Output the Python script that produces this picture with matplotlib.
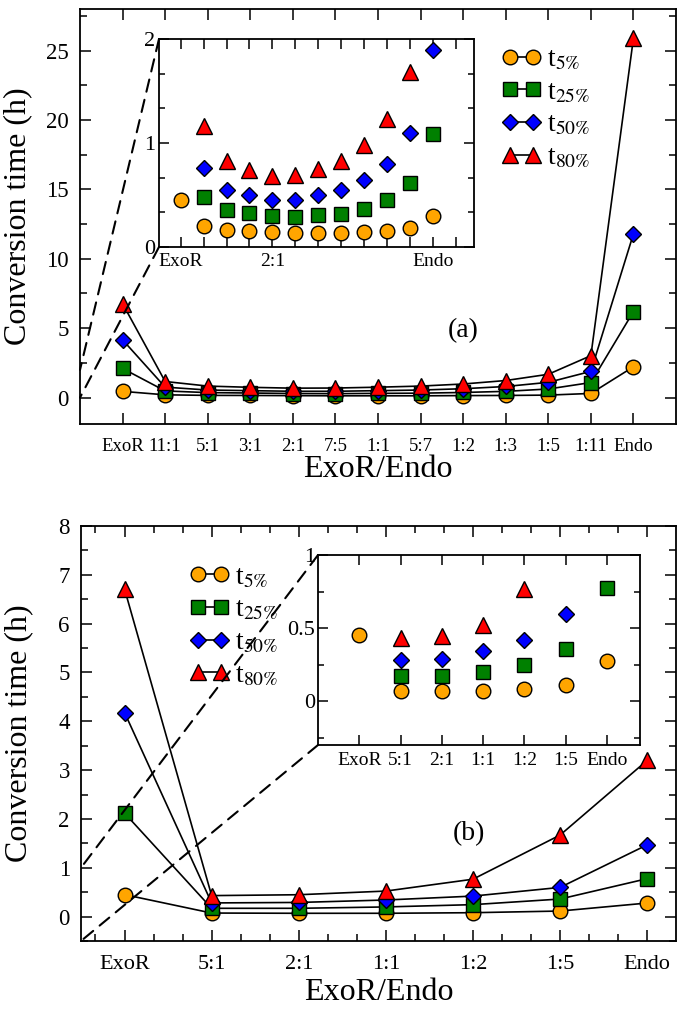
import numpy as np
import matplotlib
matplotlib.use('Agg')
import matplotlib.pyplot as plt
from matplotlib.ticker import MultipleLocator, FormatStrFormatter
from matplotlib.patches import ConnectionPatch

# panel (a) data
cats_a = ["ExoR", "11:1", "5:1", "3:1", "2:1", "7:5", "1:1", "5:7", "1:2", "1:3", "1:5", "1:11", "Endo"]
t5_a = [0.45, 0.20, 0.16, 0.155, 0.14, 0.13, 0.13, 0.13, 0.145, 0.155, 0.18, 0.30, 2.22]
t25_a = [2.10, 0.48, 0.36, 0.33, 0.295, 0.285, 0.305, 0.32, 0.37, 0.45, 0.62, 1.085, 6.2]
t50_a = [4.16, 0.755, 0.545, 0.50, 0.456, 0.456, 0.50, 0.545, 0.64, 0.80, 1.10, 1.89, 11.8]
t80_a = [6.77, 1.16, 0.83, 0.74, 0.68, 0.69, 0.75, 0.83, 0.98, 1.23, 1.68, 3.02, 25.9]
inset_a_ticks = [0, 4, 11]
inset_a_labels = ["ExoR", "2:1", "Endo"]

# panel (b) data
cats_b = ["ExoR", "5:1", "2:1", "1:1", "1:2", "1:5", "Endo"]
t5_b = [0.45, 0.073, 0.068, 0.068, 0.08, 0.114, 0.278]
t25_b = [2.12, 0.17, 0.17, 0.198, 0.245, 0.36, 0.777]
t50_b = [4.18, 0.28, 0.29, 0.34, 0.42, 0.598, 1.47]
t80_b = [6.71, 0.43, 0.448, 0.523, 0.766, 1.67, 3.2]

labels = [r"t$_{5\%}$", r"t$_{25\%}$", r"t$_{50\%}$", r"t$_{80\%}$"]
markers = ['o', 's', 'D', '^']
colors = ['#FFA500', '#008000', '#0000FF', '#FF0000']
sizes = [10.5, 9.5, 8.5, 11.5]

plt.rcParams['font.family'] = ['Liberation Serif', 'DejaVu Serif']
plt.rcParams['mathtext.fontset'] = 'stix'

fig = plt.figure(figsize=(6.85, 10.16), dpi=100)


def style(ax, fs, pad=8, major=8, minor=5):
    ax.tick_params(which='both', direction='in', top=True, right=True, width=1.1)
    ax.tick_params(which='major', length=major, labelsize=fs, pad=pad)
    ax.tick_params(which='minor', length=minor)
    for s in ax.spines.values():
        s.set_linewidth(1.3)


def draw(ax, series, lines=True):
    x = np.arange(len(series[0]))
    for y, m, c, ms, lab in zip(series, markers, colors, sizes, labels):
        ax.plot(x, y, linestyle='-' if lines else 'none', color='k', lw=1.2, marker=m,
                ms=ms, mfc=c, mec='k', mew=1.0, label=lab)


def legend(ax, x0, y0):
    ax.legend(loc='upper left', bbox_to_anchor=(x0, y0), bbox_transform=fig.transFigure,
              frameon=False, numpoints=2, handlelength=1.42, handletextpad=0.2,
              labelspacing=0.26, fontsize=20, borderpad=0, borderaxespad=0)


# ---------- panel (a) ----------
ax1 = fig.add_axes([0.1168, 0.5827, 0.8701, 0.4085])
draw(ax1, [t5_a, t25_a, t50_a, t80_a])
ax1.set_xlim(-1, 13)
ax1.set_ylim(-1.9, 28)
ax1.set_xticks(range(len(cats_a)))
ax1.set_xticklabels(cats_a)
ax1.yaxis.set_major_locator(MultipleLocator(5))
ax1.yaxis.set_minor_locator(MultipleLocator(2.5))
style(ax1, 16.5, pad=8)
ax1.tick_params(axis='x', labelsize=13.5, pad=10)
ax1.set_xlabel("ExoR/Endo", fontsize=23)
ax1.set_ylabel("Conversion time (h)", fontsize=23)
ax1.yaxis.set_label_coords(-0.08, 0.5)
ax1.xaxis.set_label_coords(0.5, -0.075)
ax1.text(8, 4.8, "(a)", fontsize=20, ha='center', va='center')
legend(ax1, 0.733, 0.9537)

ins1 = fig.add_axes([0.2321, 0.7569, 0.4599, 0.2047])
draw(ins1, [t5_a, t25_a, t50_a, t80_a], lines=False)
ins1.set_xlim(-0.95, 12.8)
ins1.set_ylim(0, 2)
ins1.set_xticks(range(len(cats_a)))
ins1.set_xticklabels([inset_a_labels[inset_a_ticks.index(i)] if i in inset_a_ticks else ""
                      for i in range(len(cats_a))])
ins1.yaxis.set_major_locator(MultipleLocator(1))
ins1.yaxis.set_minor_locator(MultipleLocator(1 / 3))
style(ins1, 16, pad=3, major=7, minor=4)
ins1.tick_params(axis='x', labelsize=14, pad=4)

for xyA, xyB in [((0, 1), (-1, 2)), ((0, 0), (-1, 0))]:
    con = ConnectionPatch(xyA=xyA, coordsA=ins1.transAxes, xyB=xyB, coordsB=ax1.transData,
                          linestyle=(0, (6, 4)), lw=1.5, color='k')
    fig.add_artist(con)

# ---------- panel (b) ----------
ax2 = fig.add_axes([0.1182, 0.0738, 0.8686, 0.4085])
draw(ax2, [t5_b, t25_b, t50_b, t80_b])
ax2.set_xlim(-0.5, 6.33)
ax2.set_ylim(-0.5, 8)
ax2.set_xticks(range(len(cats_b)))
ax2.set_xticklabels(cats_b)
ax2.xaxis.set_minor_locator(MultipleLocator(1 / 3))
ax2.yaxis.set_major_locator(MultipleLocator(1))
ax2.yaxis.set_minor_locator(MultipleLocator(0.5))
style(ax2, 16.5, pad=8)
ax2.tick_params(axis='x', labelsize=16, pad=10)
ax2.set_xlabel("ExoR/Endo", fontsize=23)
ax2.set_ylabel("Conversion time (h)", fontsize=23)
ax2.yaxis.set_label_coords(-0.081, 0.5)
ax2.xaxis.set_label_coords(0.5, -0.088)
ax2.text(3.95, 1.7, "(b)", fontsize=20, ha='center', va='center')
legend(ax2, 0.277, 0.4442)

ins2 = fig.add_axes([0.4642, 0.2667, 0.4701, 0.187])
draw(ins2, [t5_b, t25_b, t50_b, t80_b], lines=False)
ins2.set_xlim(-1, 6.8)
ins2.set_ylim(-0.3, 1)
ins2.set_xticks(range(len(cats_b)))
ins2.set_xticklabels(cats_b)
ins2.yaxis.set_major_locator(MultipleLocator(0.5))
ins2.yaxis.set_minor_locator(MultipleLocator(0.25))
ins2.yaxis.set_major_formatter(FormatStrFormatter('%g'))
style(ins2, 16, pad=2, major=7, minor=4)
ins2.tick_params(axis='x', labelsize=14, pad=5)

for xyA, xyB in [((0, 1), (-0.5, 1)), ((0, 0), (-0.5, -0.5))]:
    con = ConnectionPatch(xyA=xyA, coordsA=ins2.transAxes, xyB=xyB, coordsB=ax2.transData,
                          linestyle=(0, (6, 4)), lw=1.5, color='k')
    fig.add_artist(con)

fig.savefig('out.png', dpi=100)
